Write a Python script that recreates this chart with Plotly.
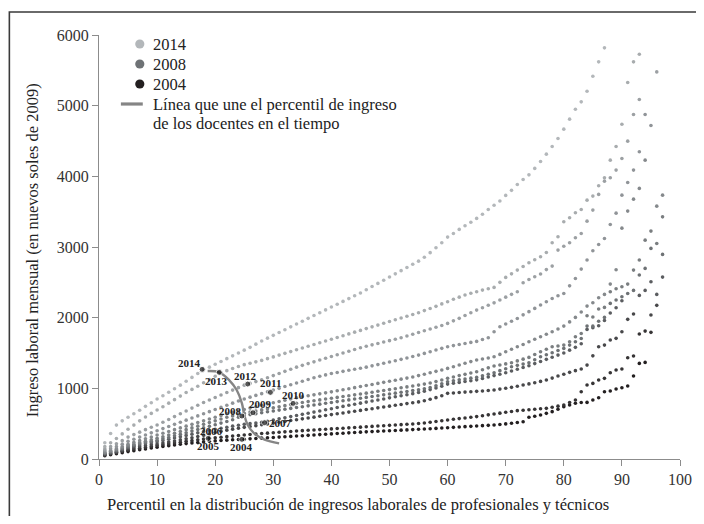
import plotly.graph_objects as go

# ---------------- data (monthly labour income by percentile, soles of 2009) ----------------
inc_2014 = [230,360,480,540,590,640,690,745,795,850,
            895,945,995,1045,1100,1155,1210,1268,1300,1340,
            1380,1420,1460,1500,1540,1580,1625,1670,1710,1750,
            1790,1830,1870,1910,1950,1990,2030,2070,2110,2150,
            2190,2230,2270,2310,2350,2395,2440,2485,2530,2575,
            2620,2665,2710,2755,2800,2855,2920,2990,3060,3140,
            3192,3249,3300,3350,3405,3463,3531,3590,3650,3730,
            3802,3885,3956,4021,4112,4210,4314,4423,4536,4668,
            4809,4950,5054,5205,5417,5620,5818]
inc_2013 = [175,230,290,355,420,480,540,595,645,693,
            740,790,840,890,940,985,1030,1080,1125,1170,
            1215,1250,1280,1310,1335,1355,1375,1395,1420,1445,
            1470,1495,1520,1545,1570,1595,1620,1645,1670,1695,
            1720,1745,1770,1795,1820,1845,1870,1895,1920,1945,
            1970,1995,2020,2045,2070,2100,2130,2160,2195,2225,
            2260,2290,2320,2345,2367,2390,2410,2428,2500,2570,
            2620,2673,2725,2777,2820,2862,2923,3060,3145,3357,
            3413,3484,3531,3663,3720,3866,3979,4229,4423,4738,
            5328,5620,5728]
inc_2012 = [140,175,215,260,310,345,380,415,450,481,
            520,560,600,640,680,720,760,800,835,870,
            905,940,975,1010,1045,1070,1095,1120,1150,1180,
            1210,1240,1270,1300,1325,1350,1375,1400,1425,1450,
            1475,1500,1525,1550,1575,1595,1615,1635,1655,1675,
            1695,1715,1740,1765,1790,1815,1840,1865,1890,1919,
            1955,1990,2030,2070,2107,2140,2175,2210,2249,2290,
            2330,2367,2494,2540,2580,2617,2680,2730,2956,3010,
            3060,3130,3192,3366,3522,3744,3932,3979,4088,4253,
            4498,4875,5087,None,None,5478]
inc_2011 = [120,145,175,210,250,280,310,340,370,400,
            430,460,490,520,550,580,610,640,670,700,
            730,760,790,820,850,875,900,925,950,975,
            1000,1025,1050,1075,1100,1125,1150,1170,1190,1210,
            1225,1240,1255,1270,1285,1300,1318,1336,1354,1372,
            1390,1410,1430,1450,1470,1494,1518,1542,1566,1588,
            1605,1620,1635,1650,1664,1690,1716,1800,1871,1910,
            1950,1989,2040,2085,2131,2180,2225,2272,2310,2343,
            2450,2555,2687,2815,2947,3036,3121,3319,3479,3734,
            3913,4088,4347,4875,4720]
inc_2010 = [100,120,145,175,210,235,260,285,312,339,
            365,390,415,440,465,490,515,540,565,590,
            615,640,660,680,700,720,740,760,778,796,
            814,832,850,866,880,894,908,922,936,950,
            965,980,995,1010,1025,1040,1055,1070,1085,1100,
            1115,1130,1145,1160,1180,1200,1220,1240,1260,1282,
            1305,1330,1355,1378,1400,1415,1430,1447,1480,1518,
            1553,1588,1620,1659,1695,1730,1765,1801,1840,1881,
            1940,2004,2080,2164,2211,2282,2329,2475,2678,3267,
            3508,3677,3829,4229,None,3578,3734]
inc_2009 = [90,110,135,160,190,210,230,252,272,292,
            315,340,365,390,415,440,465,490,515,540,
            565,590,610,630,648,665,680,695,710,725,
            740,755,770,788,800,812,824,836,848,860,
            872,884,896,908,920,932,945,958,970,982,
            995,1008,1020,1033,1046,1060,1075,1095,1118,1141,
            1160,1180,1198,1217,1235,1262,1290,1315,1330,1346,
            1362,1388,1413,1438,1478,1518,1553,1588,1600,1612,
            1659,1730,1777,2028,2009,2122,2145,2367,2409,2437,
            2475,2673,2815,3097,3225,3050,3427]
inc_2008 = [80,100,122,145,175,195,215,235,250,265,
            285,305,328,350,372,395,418,440,462,485,
            508,530,555,590,612,628,642,655,668,680,
            692,704,716,728,740,752,764,776,788,800,
            812,824,836,848,860,872,884,896,908,920,
            932,944,956,968,980,995,1012,1035,1065,1094,
            1107,1120,1132,1144,1155,1177,1199,1221,1250,1278,
            1306,1325,1343,1362,1405,1447,1475,1504,1535,1565,
            1612,1659,1706,1881,1880,1950,2004,2202,2249,2296,
            2343,2386,2603,2697,2980,None,2895]
inc_2007 = [70,90,110,132,160,180,198,215,230,245,
            262,280,298,316,334,352,370,388,405,420,
            435,450,465,478,490,500,510,520,535,552,
            568,584,600,616,632,648,664,680,696,712,
            728,744,760,775,790,805,820,835,850,865,
            880,895,910,925,940,960,982,1005,1030,1060,
            1072,1084,1096,1108,1120,1140,1160,1180,1200,1220,
            1245,1270,1295,1320,1350,1380,1410,1440,1470,1500,
            1540,1580,1630,1834,1858,1886,1960,2065,2141,2240,
            None,None,2315,2386,2508,2329,2574]
inc_2006 = [60,78,96,115,140,158,174,188,200,212,
            226,240,255,270,285,300,318,335,355,375,
            392,408,422,435,448,460,472,484,496,508,
            520,532,544,556,568,580,592,604,616,628,
            640,652,664,676,688,700,712,724,736,748,
            760,772,784,796,808,825,845,868,895,929,
            935,941,947,952,957,963,970,976,989,1001,
            1014,1030,1047,1063,1080,1098,1117,1145,1174,1200,
            1226,1250,1273,1329,1460,1589,1612,1683,1707,1801,
            1976,2051,None,None,2037,2174]
inc_2005 = [55,72,90,108,125,140,152,164,177,190,
            202,214,226,238,250,260,272,283,292,300,
            308,316,324,332,340,347,354,360,366,372,
            378,384,390,396,401,406,411,416,421,426,
            431,436,441,446,451,456,461,466,471,476,
            481,486,491,496,502,510,520,530,541,552,
            562,572,581,590,600,612,625,637,649,661,
            672,684,690,697,704,711,717,732,748,764,
            800,835,952,1047,1070,1117,1141,1221,1259,1273,
            1433,1457,1768,1810,1792]
inc_2004 = [45,60,75,90,105,118,130,142,155,168,
            178,188,198,208,218,226,234,242,250,256,
            262,267,272,276,280,285,290,295,300,305,
            310,315,320,325,330,335,340,345,350,355,
            360,365,370,375,380,384,388,392,396,400,
            404,408,412,416,420,424,428,433,438,443,
            448,453,458,462,467,472,476,481,489,497,
            505,516,528,590,606,623,646,670,705,741,
            765,788,800,801,834,867,952,962,990,1009,
            1032,1174,1353,1367]

years = [2004, 2005, 2006, 2007, 2008, 2009, 2010, 2011, 2012, 2013, 2014]
series = [inc_2004, inc_2005, inc_2006, inc_2007, inc_2008, inc_2009,
          inc_2010, inc_2011, inc_2012, inc_2013, inc_2014]

# teachers' position in each year's distribution
doc_years = ["2004", "2005", "2006", "2007", "2008", "2009", "2010", "2011", "2012", "2013", "2014"]
doc_pct = [24.6, 18.8, 19.6, 28.5, 24.6, 26.5, 33.4, 29.5, 25.6, 20.7, 17.75]
doc_val = [278, 292, 400, 514, 608, 655, 787, 943, 1061, 1226, 1268]
# curve joining the teachers' percentile over time
path_pct = [18.7, 20.7, 22.4, 23.7, 24.6, 25.0, 25.6, 26.7, 28.4, 31.0]
path_val = [1245, 1226, 1117, 976, 788, 622, 481, 363, 279, 222]

x_ticks = [0, 10, 20, 30, 40, 50, 60, 70, 80, 90, 100]
y_ticks = [0, 1000, 2000, 3000, 4000, 5000, 6000]

# ---------------- styling ----------------
FONT = "Liberation Serif, Times New Roman, serif"
C2004 = (35, 31, 32)
C2008 = (110, 114, 117)
C2014 = (179, 183, 186)


def mix(a, b, t):
    return "rgb(%d,%d,%d)" % tuple(round(a[i] + (b[i] - a[i]) * t) for i in range(3))


def year_color(y):
    if y <= 2008:
        return mix(C2004, C2008, (y - 2004) / 4)
    return mix(C2008, C2014, (y - 2008) / 6)


# figure sits in the page with the browser's 8px body margin
FIG_W, FIG_H = 696, 508
L, R, T, B = 91, 21, 27, 57
W = FIG_W - L - R   # 584
H = FIG_H - T - B   # 424


def px(xp):  # page pixel -> paper x
    return (xp - 8 - L) / W


def py(yp):  # page pixel -> paper y
    return (FIG_H - B - (yp - 8)) / H


fig = go.Figure()

for y, vals in zip(years, series):
    fig.add_trace(go.Scatter(
        x=list(range(1, len(vals) + 1)), y=vals, mode="markers",
        marker=dict(size=3.6, color=year_color(y), line=dict(width=0)),
        showlegend=False, hoverinfo="skip"))

fig.add_trace(go.Scatter(
    x=path_pct, y=path_val, mode="lines",
    line=dict(color="#858585", width=2.4, shape="spline", smoothing=1.1),
    showlegend=False, hoverinfo="skip"))

fig.add_trace(go.Scatter(
    x=doc_pct, y=doc_val, mode="markers",
    marker=dict(size=[6 if d != "2006" else 0 for d in doc_years], color="#111111"),
    showlegend=False, hoverinfo="skip"))

label_shift = {"2014": (-13, 6), "2013": (-3, -9), "2012": (-2, 8), "2011": (0, 9),
               "2010": (0, 8), "2009": (8, 9), "2008": (-11, 5), "2007": (16, 0),
               "2006": (-1, 0), "2005": (0, -8), "2004": (0, -8)}
annotations = []
for d, xv, yv in zip(doc_years, doc_pct, doc_val):
    dx, dy = label_shift[d]
    annotations.append(dict(x=xv, y=yv, xref="x", yref="y", text="<b>%s</b>" % d,
                            showarrow=False, xshift=dx, yshift=dy,
                            font=dict(family=FONT, size=11, color="#222")))

# legend (drawn by hand to mimic the original layout)
shapes = []
leg_rows = [("2014", C2014, 44), ("2008", C2008, 64), ("2004", C2004, 84)]
for txt, col, yc in leg_rows:
    r = 4.6
    shapes.append(dict(type="circle", xref="paper", yref="paper",
                       x0=px(140 - r), x1=px(140 + r), y0=py(yc + r), y1=py(yc - r),
                       fillcolor="rgb(%d,%d,%d)" % col, line=dict(width=0)))
    annotations.append(dict(x=px(151), y=py(yc), xref="paper", yref="paper", text=txt,
                            showarrow=False, xanchor="left", yanchor="middle",
                            font=dict(family=FONT, size=16.5, color="#222")))
shapes.append(dict(type="line", xref="paper", yref="paper", x0=px(121), x1=px(143),
                   y0=py(104), y1=py(104), line=dict(color="#858585", width=3.2)))
annotations.append(dict(x=px(151), y=py(104), xref="paper", yref="paper",
                        text="Línea que une el percentil de ingreso", showarrow=False,
                        xanchor="left", yanchor="middle",
                        font=dict(family=FONT, size=16.5, color="#222")))
annotations.append(dict(x=px(151), y=py(124), xref="paper", yref="paper",
                        text="de los docentes en el tiempo", showarrow=False,
                        xanchor="left", yanchor="middle",
                        font=dict(family=FONT, size=16.5, color="#222")))

# axis titles
annotations.append(dict(x=px(32), y=py(250), xref="paper", yref="paper",
                        text="Ingreso laboral mensual (en nuevos soles de 2009)",
                        showarrow=False, textangle=-90, xanchor="center", yanchor="middle",
                        font=dict(family=FONT, size=16.5, color="#222")))
annotations.append(dict(x=px(359), y=py(505), xref="paper", yref="paper",
                        text="Percentil en la distribución de ingresos laborales de profesionales y técnicos",
                        showarrow=False, xanchor="center", yanchor="middle",
                        font=dict(family=FONT, size=16.5, color="#222")))

# outer frame (its right and bottom edges fall outside the picture)
shapes.append(dict(type="rect", xref="paper", yref="paper",
                   x0=px(8.9), x1=px(760), y0=py(600), y1=py(12),
                   line=dict(color="#3a3a3a", width=1.6), fillcolor="rgba(0,0,0,0)",
                   layer="below"))

axis_common = dict(showgrid=False, zeroline=False, showline=True, linecolor="#8c8c8c",
                   linewidth=1.2, ticks="outside", ticklen=6, tickcolor="#8c8c8c",
                   tickwidth=1.2, tickfont=dict(family=FONT, size=16, color="#333"))

fig.update_layout(
    width=FIG_W, height=FIG_H,
    margin=dict(l=L, r=R, t=T, b=B, pad=0),
    paper_bgcolor="white", plot_bgcolor="white",
    xaxis=dict(range=[0, 100], tickvals=x_ticks, ticktext=[str(v) for v in x_ticks], **axis_common),
    yaxis=dict(range=[0, 6000], tickvals=y_ticks, ticktext=[str(v) for v in y_ticks], **axis_common),
    annotations=annotations, shapes=shapes, showlegend=False,
)

fig.write_html("out.html")
